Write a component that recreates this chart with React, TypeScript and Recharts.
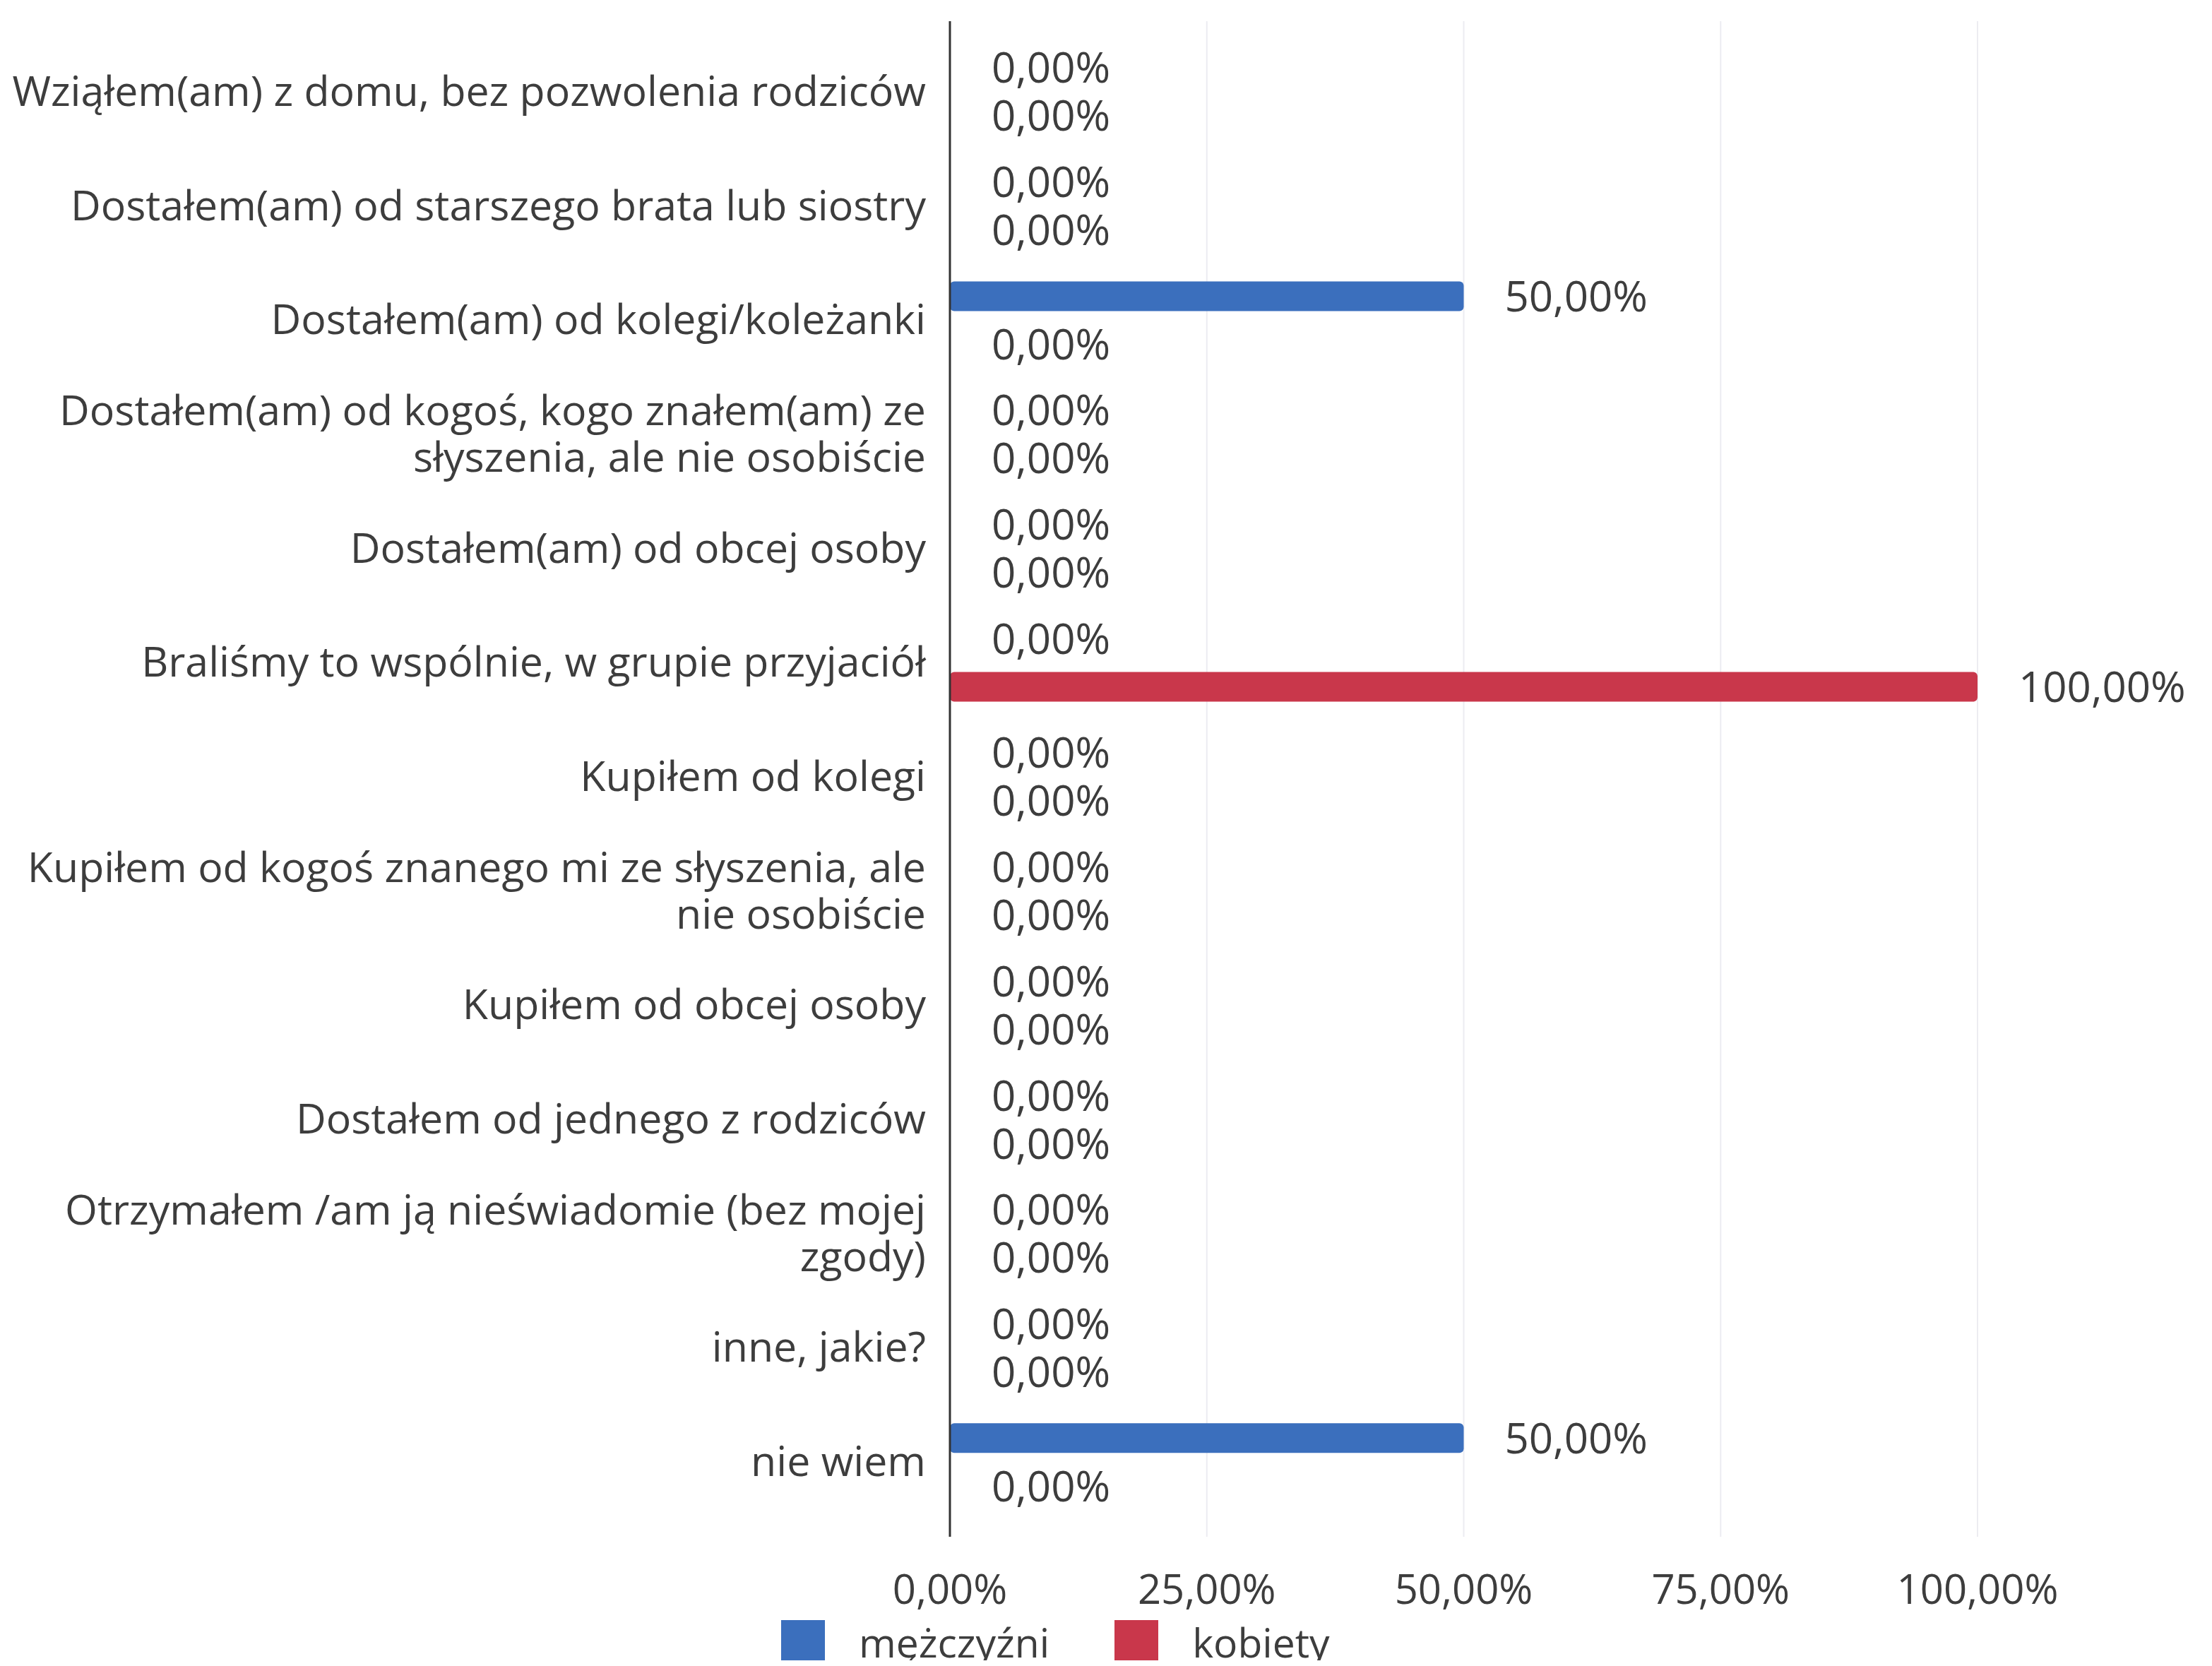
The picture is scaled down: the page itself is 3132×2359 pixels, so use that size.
import React from 'react';
import { BarChart, Bar, XAxis, YAxis, CartesianGrid, Legend, LabelList } from 'recharts';

const categories = [
  'Wziąłem(am) z domu, bez pozwolenia rodziców',
  'Dostałem(am) od starszego brata lub siostry',
  'Dostałem(am) od kolegi/koleżanki',
  'Dostałem(am) od kogoś, kogo znałem(am) ze\nsłyszenia, ale nie osobiście',
  'Dostałem(am) od obcej osoby',
  'Braliśmy to wspólnie, w grupie przyjaciół',
  'Kupiłem od kolegi',
  'Kupiłem od kogoś znanego mi ze słyszenia, ale\nnie osobiście',
  'Kupiłem od obcej osoby',
  'Dostałem od jednego z rodziców',
  'Otrzymałem /am ją nieświadomie (bez mojej\nzgody)',
  'inne, jakie?',
  'nie wiem',
];

const men = [0, 0, 0.5, 0, 0, 0, 0, 0, 0, 0, 0, 0, 0.5];
const women = [0, 0, 0, 0, 0, 1, 0, 0, 0, 0, 0, 0, 0];

const xTicks = [0, 0.25, 0.5, 0.75, 1];

const BLUE = '#3b6fbd';
const RED = '#c9374b';
const TEXT = '#3d3d3d';
const FONT = '"Open Sans", sans-serif';

const data = categories.map((name, i) => ({ name, men: men[i], women: women[i] }));

const pct = (v: number) => (v * 100).toFixed(2).replace('.', ',') + '%';

const CategoryTick = (props: any) => {
  const { x, y, payload } = props;
  const lines: string[] = String(payload.value).split('\n');
  const lh = 66;
  const start = -((lines.length - 1) * lh) / 2;
  return (
    <text x={x} y={y} textAnchor="end" fill={TEXT} fontSize={59} fontFamily={FONT}>
      {lines.map((l, i) => (
        <tspan key={i} x={x} dy={i === 0 ? start + 20 : lh}>
          {l}
        </tspan>
      ))}
    </text>
  );
};

const LegendContent = () => (
  <div style={{ display: 'flex', alignItems: 'center', fontFamily: FONT, fontSize: 57, color: TEXT }}>
    <span style={{ width: 62, height: 62, background: BLUE, display: 'inline-block', marginRight: 48 }} />
    <span style={{ marginRight: 92 }}>mężczyźni</span>
    <span style={{ width: 62, height: 62, background: RED, display: 'inline-block', marginRight: 48 }} />
    <span>kobiety</span>
  </div>
);

export default function App() {
  return (
    <div style={{ background: '#fff' }}>
      <BarChart
        width={3116}
        height={2343}
        data={data}
        layout="vertical"
        margin={{ top: 22, right: 324, left: 0, bottom: 0 }}
        barGap={26}
        barSize={42}
      >
        <CartesianGrid horizontal={false} stroke="#ececf1" strokeWidth={2} />
        <XAxis
          type="number"
          domain={[0, 1]}
          ticks={xTicks}
          tickFormatter={pct}
          axisLine={false}
          tickLine={false}
          tickSize={0}
          tickMargin={54}
          height={110}
          tick={{ fill: TEXT, fontSize: 58, fontFamily: FONT }}
        />
        <YAxis
          type="category"
          dataKey="name"
          width={1337}
          padding={{ top: 19, bottom: 25 }}
          tick={<CategoryTick />}
          tickLine={false}
          tickSize={0}
          tickMargin={34}
          axisLine={{ stroke: '#333', strokeWidth: 3 }}
          interval={0}
        />
        <Legend
          verticalAlign="bottom"
          height={65}
          content={<LegendContent />}
          wrapperStyle={{ left: 1098, width: 'auto' }}
        />
        <Bar dataKey="men" name="mężczyźni" fill={BLUE} radius={6} minPointSize={1} isAnimationActive={false}>
          <LabelList dataKey="men" position="right" offset={58} formatter={(v: any) => pct(Number(v))} fill={TEXT} fontSize={60} fontFamily={FONT} />
        </Bar>
        <Bar dataKey="women" name="kobiety" fill={RED} radius={6} minPointSize={1} isAnimationActive={false}>
          <LabelList dataKey="women" position="right" offset={58} formatter={(v: any) => pct(Number(v))} fill={TEXT} fontSize={60} fontFamily={FONT} />
        </Bar>
      </BarChart>
    </div>
  );
}
